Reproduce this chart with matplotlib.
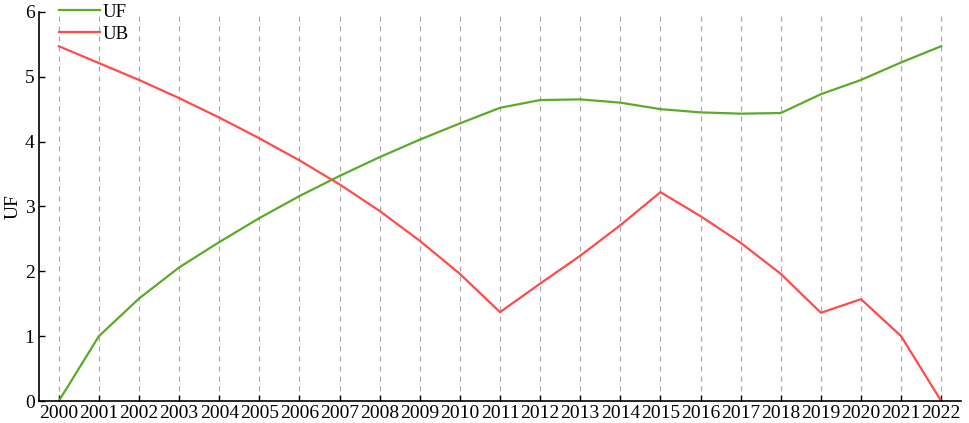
import numpy as np
import matplotlib.pyplot as plt

# -----------------------------
# DATA
# -----------------------------
years = list(range(2000, 2023))
uf = [0.0, 1.0, 1.58, 2.06, 2.45, 2.82, 3.16, 3.47, 3.76, 4.03, 4.28, 4.52,
      4.64, 4.65, 4.60, 4.50, 4.45, 4.43, 4.44, 4.73, 4.95, 5.22, 5.47]
ub = [5.47, 5.21, 4.95, 4.67, 4.37, 4.05, 3.71, 3.34, 2.93, 2.47, 1.96, 1.37,
      1.81, 2.24, 2.71, 3.22, 2.85, 2.44, 1.96, 1.36, 1.57, 1.0, 0.0]

plt.rcParams['font.family'] = ['Liberation Serif', 'DejaVu Serif']
plt.rcParams['font.size'] = 14

fig = plt.figure(figsize=(9.69, 4.23), dpi=100)
ax = fig.add_axes([0.040, 0.052, 0.952, 0.920])

ax.plot(years, uf, color='#5BAA2A', lw=1.6, label='UF')
ax.plot(years, ub, color='#FF4B4B', lw=1.6, label='UB')

ax.set_xlim(1999.5, 2022.5)
ax.set_ylim(0, 6)
ax.set_xticks(years)
ax.set_yticks(range(0, 7))
ax.xaxis.grid(True, linestyle=(0, (4, 4)), color='#aaaaaa', lw=0.9)
ax.set_ylabel('UF', labelpad=2)

for s in ['top', 'right']:
    ax.spines[s].set_visible(False)
ax.spines['left'].set_linewidth(1.2)
ax.spines['bottom'].set_linewidth(1.2)
ax.tick_params(direction='in', length=4, width=1.0, pad=3)

ax.legend(loc='upper left', bbox_to_anchor=(0.014, 1.04), frameon=False,
          handlelength=2.2, handletextpad=0.1, labelspacing=0.25,
          borderaxespad=0.0, fontsize=13.5)

fig.savefig('out.png', dpi=100)
